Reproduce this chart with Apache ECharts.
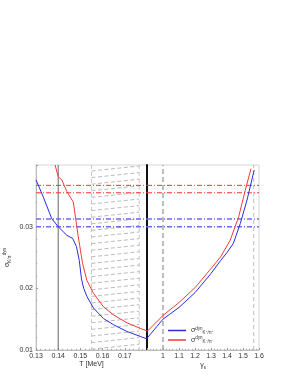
<!DOCTYPE html>
<html><head><meta charset="utf-8">
<script src="https://cdn.jsdelivr.net/npm/echarts@6/dist/echarts.min.js"></script>
<style>html,body{margin:0;padding:0;background:#fff}#c{width:295px;height:382px}</style>
</head><body><div id="c"></div>
<script>
// ---- data ----
const tTicks = [0.13, 0.14, 0.15, 0.16, 0.17, 0.18];
const gTicks = [0.9, 1.0, 1.1, 1.2, 1.3, 1.4, 1.5, 1.6];
const yTicks = [0.01, 0.02, 0.03, 0.04];
const blueT = [[0.1300,0.0376],[0.1333,0.0348],[0.1371,0.0313],[0.1400,0.0300],[0.1439,0.0286],[0.1465,0.0281],[0.1482,0.0268],[0.1495,0.0245],[0.1505,0.0215],[0.1515,0.0200],[0.1529,0.0187],[0.1559,0.0168],[0.1604,0.0151],[0.1649,0.0141],[0.1710,0.0130],[0.1770,0.0122],[0.1800,0.0118]];
const redT = [[0.1386,0.0400],[0.1400,0.0381],[0.1416,0.0376],[0.1439,0.0357],[0.1468,0.0340],[0.1480,0.0310],[0.1490,0.0285],[0.1500,0.0262],[0.1510,0.0240],[0.1529,0.0213],[0.1559,0.0192],[0.1604,0.0170],[0.1649,0.0157],[0.1710,0.0144],[0.1770,0.0135],[0.1800,0.0131]];
const blueG = [[0.90,0.0119],[1.00,0.0150],[1.10,0.0169],[1.20,0.0193],[1.30,0.0224],[1.36,0.0245],[1.40,0.0258],[1.44,0.0273],[1.483,0.0305],[1.525,0.0343],[1.570,0.0392]];
const redG = [[0.90,0.0130],[1.00,0.0156],[1.10,0.0177],[1.20,0.0201],[1.30,0.0232],[1.36,0.0251],[1.42,0.0278],[1.473,0.0316],[1.514,0.0359],[1.550,0.0394]];
const redBands = [0.0367, 0.0355];
const blueBands = [0.03125, 0.0300];
const hatchRange = [0.155, 0.1765];
const tLine = 0.14;
const gLines = [1.0, 1.567];

const FONT = 'Liberation Sans';
const BLUE = '#2b2be6', RED = '#f23a3a';
const chart = echarts.init(document.getElementById('c'), null, {renderer:'canvas'});

const axLabel = {fontSize:7, color:'#333', fontFamily:FONT, margin:3};
const axLine = {show:true, lineStyle:{color:'#bbb', width:1}};
const tick = {show:true, inside:true, length:2, lineStyle:{color:'#999'}};
const minor = {show:true, splitNumber:5, length:1.2, lineStyle:{color:'#aaa'}};

function bandSeries(ax, xr) {
  const out = [];
  redBands.forEach(v => out.push({type:'line', xAxisIndex:ax, yAxisIndex:ax, silent:true, symbol:'none', z:2,
    data:[[xr[0], v],[xr[1], v]], itemStyle:{color:'#ff3333'}, lineStyle:{color:'#ff3333', width:1, type:[5,2,1,2]}}));
  blueBands.forEach(v => out.push({type:'line', xAxisIndex:ax, yAxisIndex:ax, silent:true, symbol:'none', z:2,
    data:[[xr[0], v],[xr[1], v]], itemStyle:{color:'#6b6bf5'}, lineStyle:{color:'#6b6bf5', width:1.5, type:[5,2,1,2]}}));
  return out;
}
function vSeries(ax, x, style) {
  return {type:'line', xAxisIndex:ax, yAxisIndex:ax, silent:true, symbol:'none', z:2,
    data:[[x, yTicks[0]],[x, yTicks[yTicks.length-1]]], itemStyle:{color:style.color}, lineStyle:style};
}
const tr = [tTicks[0], tTicks[tTicks.length-1]];
const gr = [gTicks[0], gTicks[gTicks.length-1]];

chart.setOption({
  animation:false,
  grid:[
    {left:36, top:165, width:111, height:185, show:true, borderColor:'#ccc', borderWidth:0.8},
    {left:147, top:165, width:112, height:185, show:true, borderColor:'#ccc', borderWidth:0.8}
  ],
  xAxis:[
    {type:'value', gridIndex:0, min:tr[0], max:tr[1], interval:0.01,
     name:'T [MeV]', nameLocation:'middle', nameGap:11, nameTextStyle:{fontSize:7, color:'#333', fontFamily:FONT},
     axisLine:axLine, axisTick:tick, minorTick:minor, splitLine:{show:false},
     axisLabel:Object.assign({}, axLabel, {formatter:v => v > 0.1795 ? '' : v.toFixed(2)})},
    {type:'value', gridIndex:1, min:gr[0], max:gr[1], interval:0.1,
     name:'{g|γ}{s|s}', nameLocation:'middle', nameGap:11,
     nameTextStyle:{fontSize:7, color:'#333', fontFamily:FONT, rich:{g:{fontSize:7, fontFamily:FONT, color:'#333'}, s:{fontSize:4.5, fontFamily:FONT, color:'#333', verticalAlign:'bottom', lineHeight:9}}},
     axisLine:axLine, axisTick:tick, minorTick:minor, splitLine:{show:false},
     axisLabel:Object.assign({}, axLabel, {formatter:v => v < 0.95 ? '' : String(Math.round(v*10)/10)})}
  ],
  yAxis:[
    {type:'value', gridIndex:0, min:yTicks[0], max:yTicks[yTicks.length-1], interval:0.01,
     name:'{s|σ}{d|K/π}{u|dyn}', nameLocation:'middle', nameGap:24,
     nameTextStyle:{fontSize:7, color:'#333', fontFamily:FONT, rich:{
       s:{fontSize:7, fontFamily:FONT, color:'#333', lineHeight:10},
       d:{fontSize:4.5, fontFamily:FONT, color:'#333', verticalAlign:'bottom', lineHeight:10},
       u:{fontSize:4.5, fontFamily:FONT, color:'#333', verticalAlign:'top', lineHeight:10}}},
     axisLine:axLine, axisTick:tick, minorTick:minor, splitLine:{show:false},
     axisLabel:Object.assign({}, axLabel, {formatter:v => v > 0.0395 ? '' : v.toFixed(2)})},
    {type:'value', gridIndex:1, min:yTicks[0], max:yTicks[yTicks.length-1], interval:0.01,
     axisLine:{show:true, lineStyle:{color:'#111', width:2}}, axisTick:{show:false}, axisLabel:{show:false}, splitLine:{show:false}}
  ],
  legend:{
    left:163, top:321, orient:'vertical', itemWidth:18, itemHeight:1.5, itemGap:0.5, icon:'rect',
    data:['Kp','Km'], selectedMode:false,
    formatter: n => n === 'Kp' ? '{s|σ}{u|dyn}{d|K⁺/π⁺}' : '{s|σ}{u|dyn}{d|K⁻/π⁻}',
    textStyle:{fontSize:7, color:'#333', fontFamily:FONT, rich:{
      s:{fontSize:7, fontFamily:FONT, color:'#333', lineHeight:9},
      u:{fontSize:4.5, fontFamily:FONT, color:'#333', verticalAlign:'top', lineHeight:9},
      d:{fontSize:4.5, fontFamily:FONT, color:'#333', verticalAlign:'bottom', lineHeight:9}}}
  },
  series:[
    {type:'custom', xAxisIndex:0, yAxisIndex:0, silent:true, z:1, clip:true,
     data:[[hatchRange[0], hatchRange[1]]],
     renderItem:(params, api) => {
       const a = api.coord([api.value(0), yTicks[yTicks.length-1]]);
       const b = api.coord([api.value(1), yTicks[0]]);
       const x0 = a[0], x1 = b[0], top = a[1], bot = b[1];
       const ch = [];
       for (let y = top + 1; y + 5 <= bot; y += 6.6) {
         ch.push({type:'line', shape:{x1:x0, y1:y+5, x2:x1, y2:y}, style:{stroke:'#a8a8a8', lineWidth:0.8, lineDash:[4,2.5]}});
       }
       ch.push({type:'line', shape:{x1:x0, y1:top, x2:x0, y2:bot}, style:{stroke:'#c8c8c8', lineWidth:1, lineDash:[4,3]}});
       ch.push({type:'line', shape:{x1:x1, y1:top, x2:x1, y2:bot}, style:{stroke:'#c8c8c8', lineWidth:1, lineDash:[4,3]}});
       return {type:'group', children:ch};
     }},
    vSeries(0, tLine, {color:'#666', width:1, type:'solid'}),
    vSeries(1, gLines[0], {color:'#999', width:1.3, type:[5,3]}),
    vSeries(1, gLines[1], {color:'#aaa', width:0.8, type:[4,3]}),
    ...bandSeries(0, tr),
    ...bandSeries(1, gr),
    {name:'Kp', type:'line', xAxisIndex:0, yAxisIndex:0, data:blueT, symbol:'none', z:3,
     lineStyle:{color:BLUE, width:1}, itemStyle:{color:BLUE}},
    {name:'Km', type:'line', xAxisIndex:0, yAxisIndex:0, data:redT, symbol:'none', z:3,
     lineStyle:{color:RED, width:1}, itemStyle:{color:RED}},
    {name:'Kp', type:'line', xAxisIndex:1, yAxisIndex:1, data:blueG, symbol:'none', z:3,
     lineStyle:{color:BLUE, width:1}, itemStyle:{color:BLUE}},
    {name:'Km', type:'line', xAxisIndex:1, yAxisIndex:1, data:redG, symbol:'none', z:3,
     lineStyle:{color:RED, width:1}, itemStyle:{color:RED}}
  ]
});
</script></body></html>
